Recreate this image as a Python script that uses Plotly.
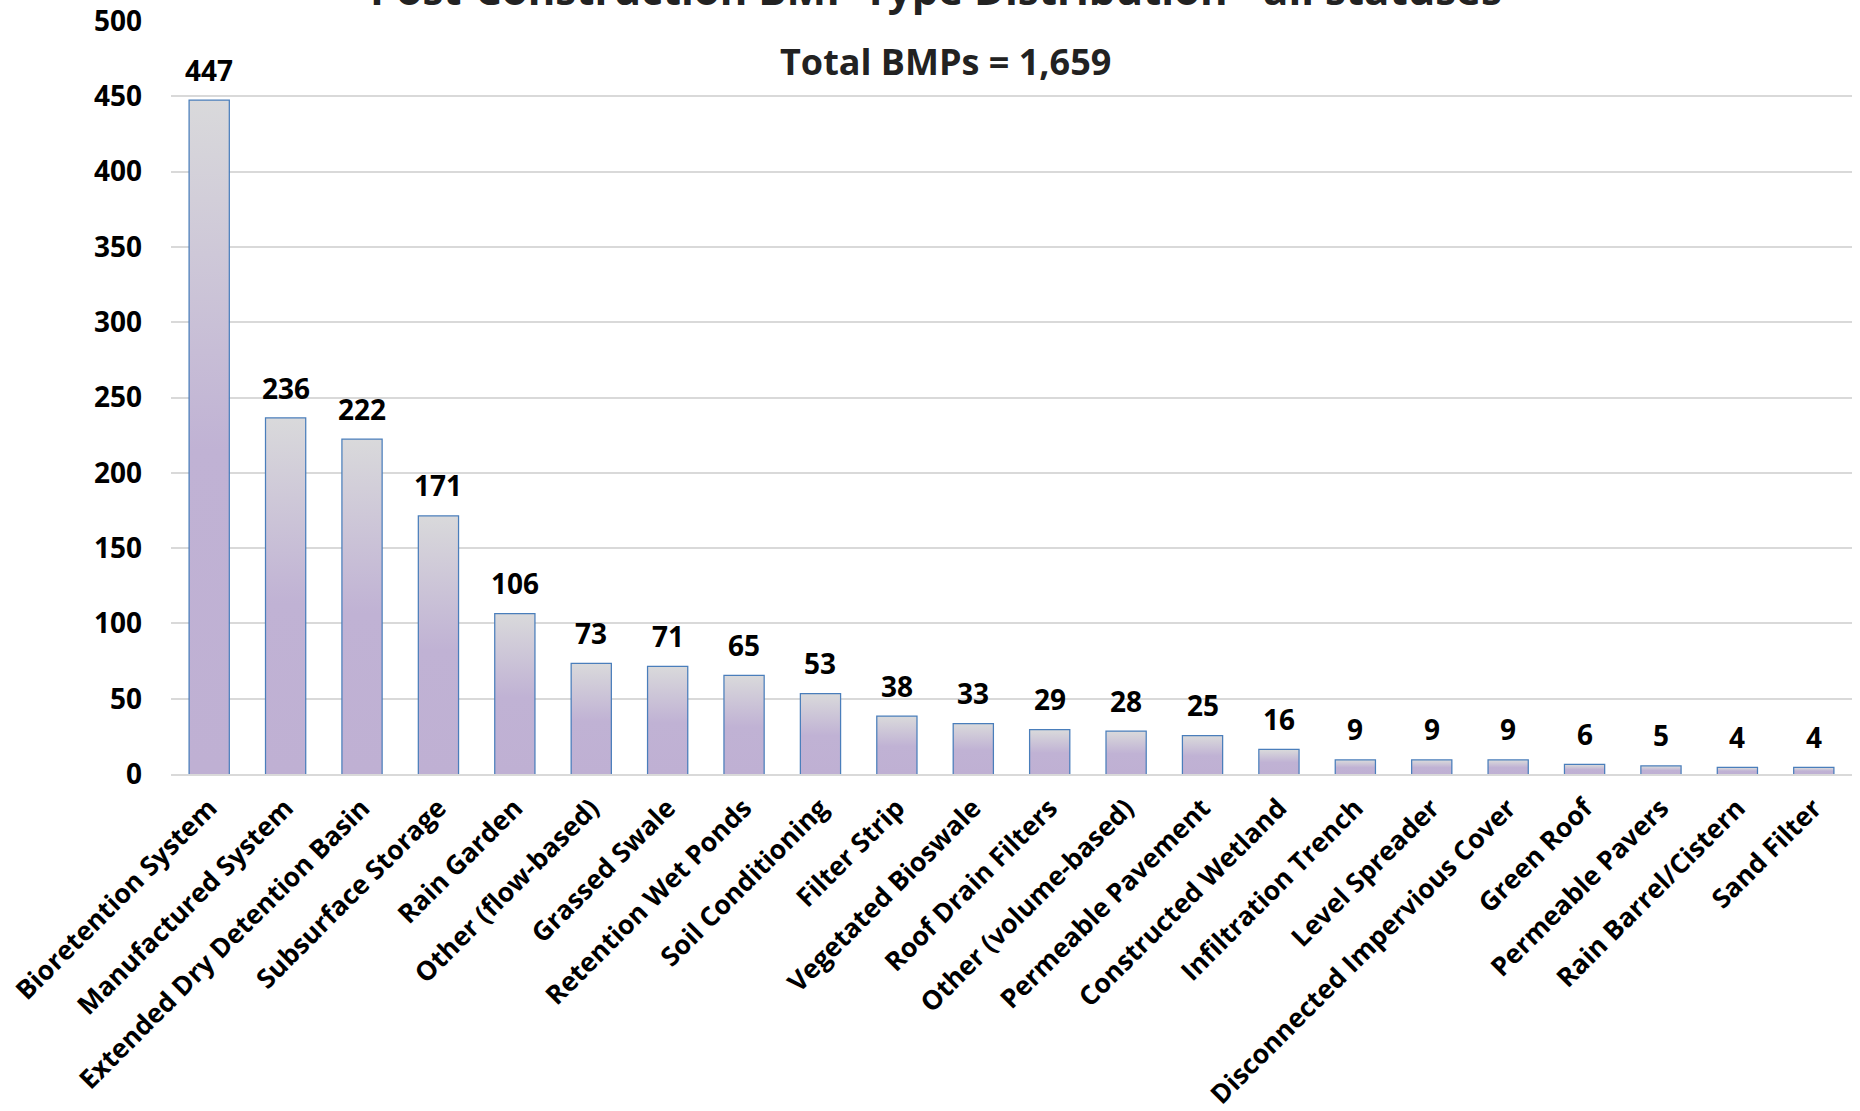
import plotly.graph_objects as go

categories = ["Bioretention System", "Manufactured System", "Extended Dry Detention Basin",
              "Subsurface Storage", "Rain Garden", "Other (flow-based)", "Grassed Swale",
              "Retention Wet Ponds", "Soil Conditioning", "Filter Strip", "Vegetated Bioswale",
              "Roof Drain Filters", "Other (volume-based)", "Permeable Pavement",
              "Constructed Wetland", "Infiltration Trench", "Level Spreader",
              "Disconnected Impervious Cover", "Green Roof", "Permeable Pavers",
              "Rain Barrel/Cistern", "Sand Filter"]
counts = [447, 236, 222, 171, 106, 73, 71, 65, 53, 38, 33, 29, 28, 25, 16, 9, 9, 9, 6, 5, 4, 4]
y_ticks = [0, 50, 100, 150, 200, 250, 300, 350, 400, 450, 500]

title_text = "Post-Construction BMP Type Distribution - all statuses"
subtitle_text = "Total BMPs = 1,659"

FONT = "Open Sans"
BAR_W = 0.51
xs = list(range(len(categories)))

fig = go.Figure()

# gradient fills for each bar
for i, v in zip(xs, counts):
    fig.add_trace(go.Scatter(
        x=[i - BAR_W / 2, i + BAR_W / 2, i + BAR_W / 2, i - BAR_W / 2, i - BAR_W / 2],
        y=[0, 0, v, v, 0],
        mode="lines", line=dict(width=0), fill="toself",
        fillgradient=dict(type="vertical",
                          colorscale=[[0, "#bfb0d3"], [0.48, "#c0b2d4"], [1, "#d9d9db"]]),
        hoverinfo="skip", showlegend=False))

fig.add_trace(go.Bar(
    x=xs, y=counts, width=BAR_W,
    marker=dict(color="rgba(0,0,0,0)", line=dict(color="#4a7ebb", width=2.5)),
    showlegend=False, hovertemplate="%{customdata}: %{y}<extra></extra>",
    customdata=categories))

for i, v in zip(xs, counts):
    fig.add_annotation(x=i, y=v, text=str(v), showarrow=False, yanchor="bottom",
                       yshift=10, font=dict(family=FONT, size=28, color="#000000"))

fig.add_annotation(xref="paper", yref="paper", x=0.455, y=1, yanchor="middle", yshift=33,
                   text="<b>" + title_text + "</b>", showarrow=False,
                   font=dict(family=FONT, size=42, color="#222222"))
fig.add_annotation(xref="paper", yref="paper", x=0.461, y=1, yanchor="middle", yshift=-40,
                   text="<b>" + subtitle_text + "</b>", showarrow=False,
                   font=dict(family=FONT, size=36, color="#222222"))

fig.update_layout(
    template="none",
    width=1860, height=1111,
    margin=dict(l=171, r=8, t=21, b=337, pad=0),
    plot_bgcolor="white", paper_bgcolor="white",
    font=dict(family=FONT, size=26, color="#000000"),
    xaxis=dict(range=[-0.5, len(categories) - 0.5], tickvals=xs, ticktext=categories,
               tickangle=-45, showgrid=False, zeroline=False, showline=True,
               linecolor="#d9d9d9", linewidth=2, ticks="", automargin=False,
               tickfont=dict(family=FONT, size=26.5, color="#000000"), ticklabelstandoff=6),
    yaxis=dict(range=[0, 500], tickvals=y_ticks, showgrid=True, gridcolor="#d9d9d9",
               gridwidth=2, zeroline=False, showline=False, ticks="", automargin=False,
               tickfont=dict(family=FONT, size=28, color="#000000"), ticklabelstandoff=28),
)
fig.update_xaxes(tickfont_weight="bold")
fig.update_yaxes(tickfont_weight="bold")
for a in fig.layout.annotations:
    a.font.weight = "bold"

fig.write_html("out.html")
